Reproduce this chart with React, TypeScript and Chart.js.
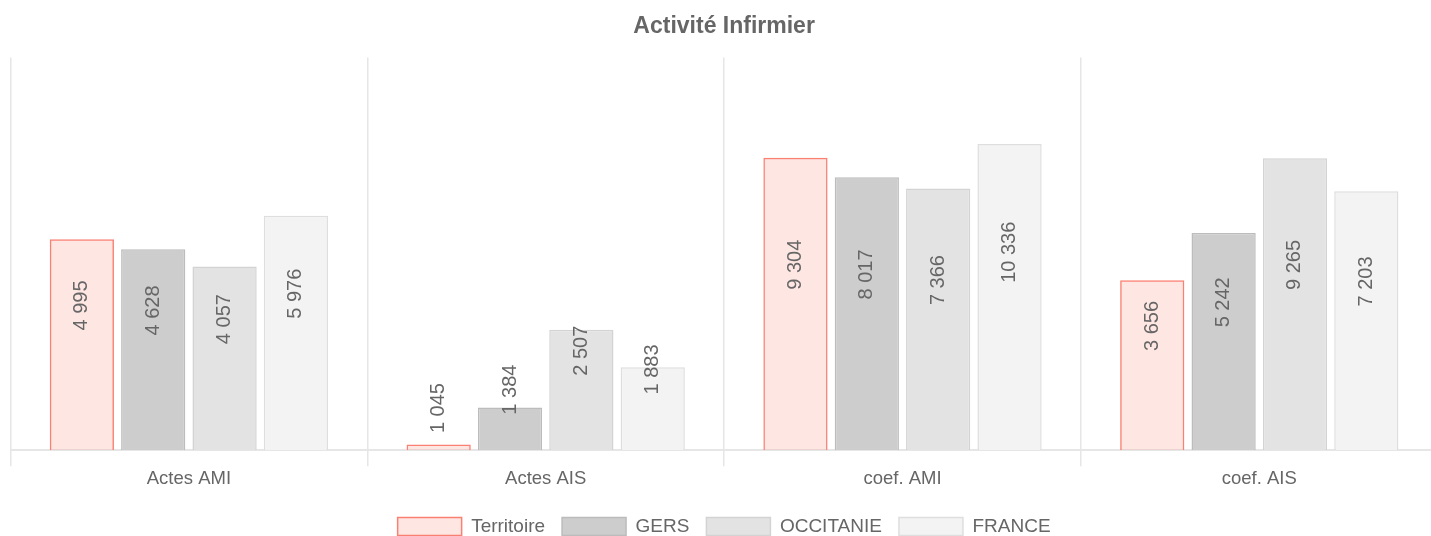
import React, { useEffect, useRef } from 'react';
import { Chart, registerables } from 'chart.js';

Chart.register(...registerables);

// ---- Data ----
const title = 'Activité Infirmier';
const categories = ['Actes AMI', 'Actes AIS', 'coef. AMI', 'coef. AIS'];
const seriesNames = ['Territoire', 'GERS', 'OCCITANIE', 'FRANCE'];
const territoire = [4995, 1045, 9304, 3656];
const gers = [4628, 1384, 8017, 5242];
const occitanie = [4057, 2507, 7366, 9265];
const france = [5976, 1883, 10336, 7203];
const axisMin = 1000;
const axisMax = 20000;

const FONT = "'Liberation Sans', Arial, Helvetica, sans-serif";
const TEXT = '#666666';

const fmt = (v: number) => String(v).replace(/\B(?=(\d{3})+(?!\d))/g, ' ');

const valueLabels = {
  id: 'valueLabels',
  afterDatasetsDraw(chart: any) {
    const { ctx, chartArea } = chart;
    const refY = chartArea.bottom - 0.2 * (chartArea.bottom - chartArea.top);
    ctx.save();
    ctx.font = `20px ${FONT}`;
    ctx.fillStyle = TEXT;
    ctx.textBaseline = 'middle';
    ctx.textAlign = 'left';
    const half = ctx.measureText('0 000').width / 2;
    chart.data.datasets.forEach((ds: any, di: number) => {
      const meta = chart.getDatasetMeta(di);
      meta.data.forEach((bar: any, i: number) => {
        const v = ds.data[i];
        const midY = (bar.y + refY) / 2;
        ctx.save();
        ctx.translate(bar.x, midY + half);
        ctx.rotate(-Math.PI / 2);
        ctx.fillText(fmt(v), 0, 0);
        ctx.restore();
      });
    });
    ctx.restore();
  },
};

export default function App() {
  const ref = useRef<HTMLCanvasElement | null>(null);

  useEffect(() => {
    if (!ref.current) return;
    Chart.defaults.font.family = FONT;
    const series = [territoire, gers, occitanie, france];
    const fills = ['rgba(250,128,114,0.2)', '#cdcdcd', '#e3e3e3', '#f3f3f3'];
    const borders = ['rgba(250,128,114,1)', '#bcbcbc', '#d3d3d3', '#dedede'];
    const chart = new Chart(ref.current, {
      type: 'bar',
      data: {
        labels: categories,
        datasets: series.map((d, i) => ({
          label: seriesNames[i],
          data: d,
          backgroundColor: fills[i],
          borderColor: borders[i],
          borderWidth: 1.5,
          categoryPercentage: 0.8,
          barPercentage: 0.9,
        })),
      },
      options: {
        responsive: false,
        animation: false,
        layout: { padding: { left: 10.5, right: 11.3, top: 0, bottom: 0 } },
        plugins: {
          title: {
            display: true,
            text: title,
            color: TEXT,
            font: { size: 23, weight: 'bold' },
            padding: { top: 13.2, bottom: 16.7 },
          },
          legend: {
            position: 'bottom',
            labels: {
              color: TEXT,
              font: { size: 19 },
              boxWidth: 64,
              boxHeight: 18,
              padding: 17,
            },
          },
          tooltip: { enabled: false },
        },
        scales: {
          x: {
            grid: { color: '#e6e6e6', lineWidth: 1.5, tickLength: 16, offset: true },
            border: { color: '#e6e6e6', width: 2 },
            ticks: { color: TEXT, font: { size: 18.5 }, padding: 1.5 },
            afterFit: (s: any) => {
              s.height += 8.6;
            },
          },
          y: {
            type: 'logarithmic',
            display: false,
            min: axisMin,
            max: axisMax,
          },
        },
      },
      plugins: [valueLabels],
    } as any);
    return () => chart.destroy();
  }, []);

  return (
    <div
      style={{
        position: 'fixed',
        left: 0,
        top: 0,
        width: '100vw',
        height: '100vh',
        overflow: 'hidden',
        background: '#fff',
      }}
    >
      <canvas
        ref={ref}
        width={1449}
        height={546}
        style={{ display: 'block', width: 1449, height: 546 }}
      />
    </div>
  );
}
